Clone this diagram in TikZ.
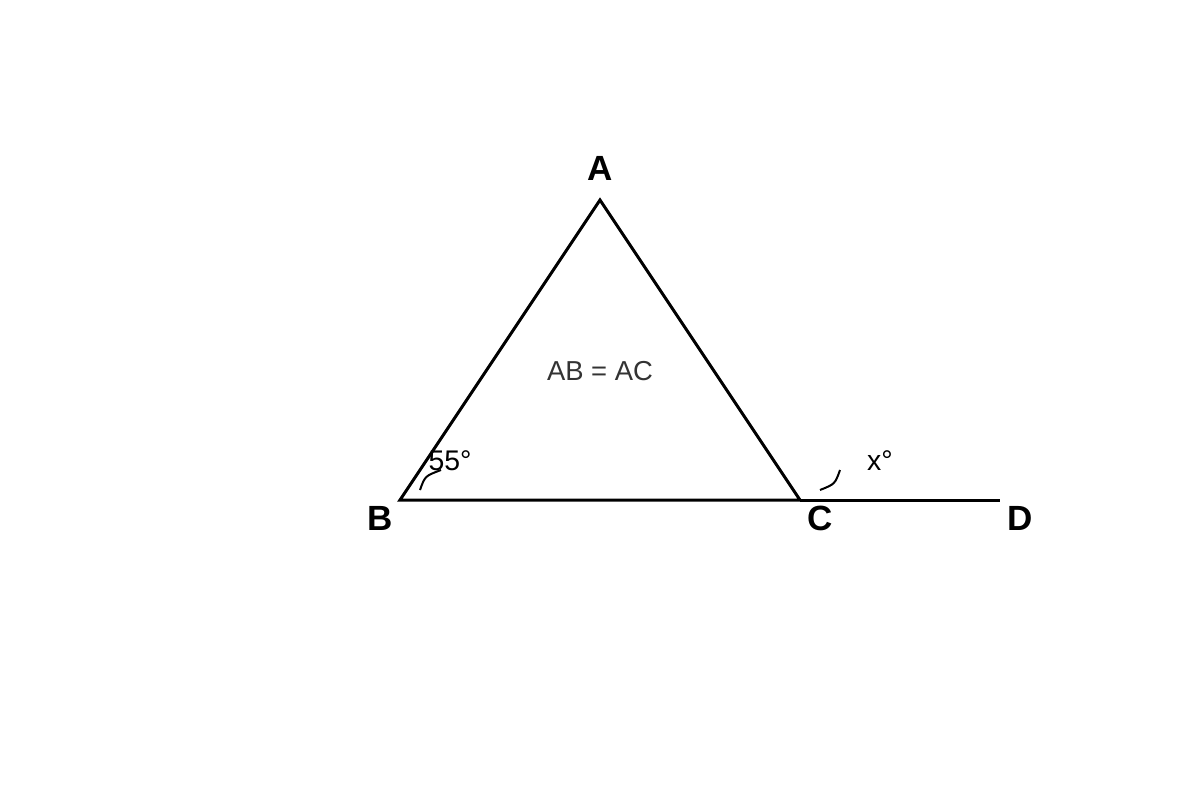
\documentclass[tikz,border=0pt]{standalone}
\usepackage{fontspec}
\setmainfont{Liberation Sans}
\definecolor{txtgray}{HTML}{333333}
\begin{document}
\begin{tikzpicture}[x=0.5pt,y=-0.5pt,
  edge/.style={line width=1.5pt, line join=miter},
  arcmark/.style={line width=1pt},
  ptlabel/.style={font=\fontsize{17.5}{20}\selectfont\bfseries, inner sep=0pt},
  anglabel/.style={font=\fontsize{14.2}{16}\selectfont, inner sep=0pt},
  note/.style={font=\fontsize{13.7}{16}\selectfont, text=txtgray, inner sep=0pt}]
\useasboundingbox (0,0) rectangle (1200,800);
\coordinate (A) at (600,200);
\coordinate (B) at (400,500);
\coordinate (C) at (800,500);
\coordinate (D) at (1000,500);
\draw[edge] (B) -- (A) -- (C) -- cycle;
\draw[edge] (C) -- (D);
\coordinate (b1) at (420,490);
\coordinate (b2) at (441,470);
\coordinate (c1) at (820,490);
\coordinate (c2) at (840,470);
\draw[arcmark] (b1) .. controls (425,476) .. (b2);
\draw[arcmark] (c1) .. controls (835,484) .. (c2);
\node[ptlabel] (lA) at (600,168) {A};
\node[ptlabel] (lB) at (380,518) {B};
\node[ptlabel] (lC) at (820,518) {C};
\node[ptlabel] (lD) at (1020,518) {D};
\node[note] (eq) at (600,371) {AB = AC};
\node[anglabel] (a55) at (450,461) {55°};
\node[anglabel] (ax) at (880,461) {x°};
\end{tikzpicture}
\end{document}
